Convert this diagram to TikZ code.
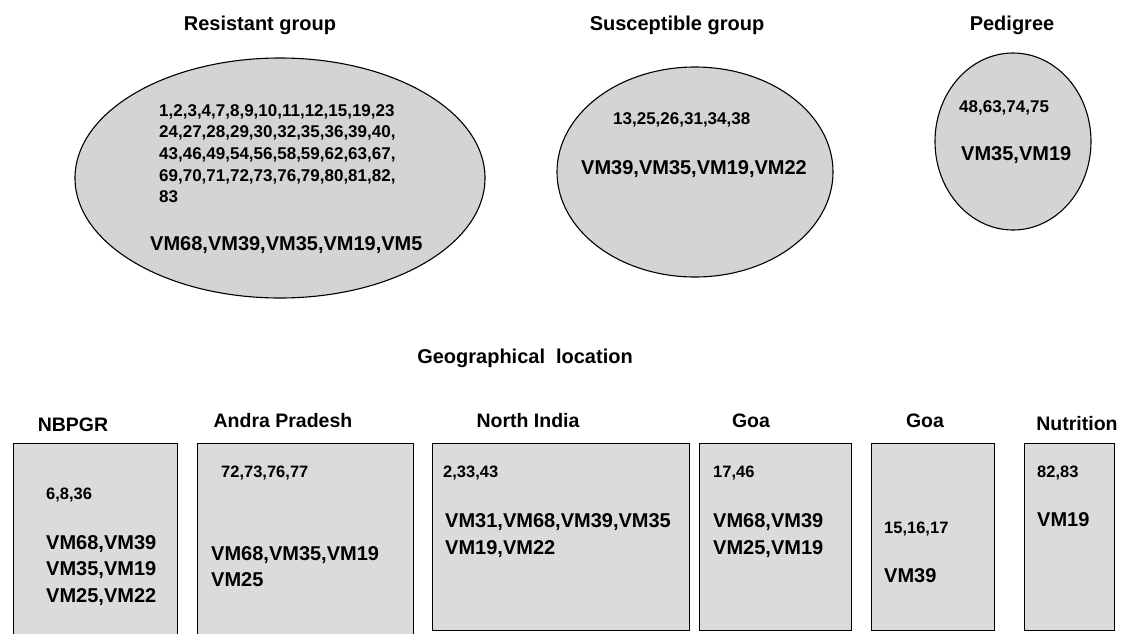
\documentclass[tikz,border=0pt]{standalone}
\usepackage{fontspec}
\setmainfont{Liberation Sans}
\usetikzlibrary{shapes.geometric}
\tikzset{
 grp/.style={ellipse, draw=black, line width=1.1pt, fill=black!17, inner sep=0},
 loc/.style={rectangle, draw=black, line width=1.3pt, fill=black!14, anchor=north west, inner sep=0},
 ttl/.style={font=\bfseries\fontsize{20}{24}\selectfont, inner sep=0},
 btl/.style={font=\bfseries\fontsize{19.5}{24}\selectfont, inner sep=0},
 nums/.style={font=\bfseries\fontsize{17}{21.7}\selectfont, anchor=north west, align=left, inner sep=0},
 snum/.style={font=\bfseries\fontsize{17}{21.7}\selectfont, anchor=west, inner sep=0},
 bnums/.style={font=\bfseries\fontsize{16.5}{20}\selectfont, anchor=west, inner sep=0},
 vms/.style={font=\bfseries\fontsize{20}{26.5}\selectfont, anchor=north west, align=left, inner sep=0},
 vmt/.style={font=\bfseries\fontsize{20}{27}\selectfont, anchor=north west, align=left, inner sep=0},
}
\begin{document}
\begin{tikzpicture}[x=1pt,y=-1pt]
\useasboundingbox (0,0) rectangle (1122,633);
\clip (0,0) rectangle (1122,633);
% top titles
\node[ttl] (tres) at (260,25) {Resistant group};
\node[ttl] (tsus) at (677,25) {Susceptible group};
\node[ttl] (tped) at (1012,25) {Pedigree};
% ellipses
\node[grp, minimum width=410pt, minimum height=240pt] (eres) at (280,178) {};
\node[grp, minimum width=276pt, minimum height=210pt] (esus) at (695,172) {};
\node[grp, minimum width=156pt, minimum height=177pt] (eped) at (1013,141.5) {};
% ellipse texts
\node[nums] (nres) at (159,104) {1,2,3,4,7,8,9,10,11,12,15,19,23\\24,27,28,29,30,32,35,36,39,40,\\43,46,49,54,56,58,59,62,63,67,\\69,70,71,72,73,76,79,80,81,82,\\83};
\node[vms] (vres) at (150,236) {VM68,VM39,VM35,VM19,VM5};
\node[snum] (nsus) at (613,120) {13,25,26,31,34,38};
\node[vms] (vsus) at (581,160) {VM39,VM35,VM19,VM22};
\node[snum] (nped) at (959,108) {48,63,74,75};
\node[vms] (vped) at (961,146) {VM35,VM19};
% geographical
\node[ttl] (tgeo) at (525,358) {Geographical\hspace{0.55em}location};
\node[btl] (tnb) at (73,425) {NBPGR};
\node[btl] (tap) at (283,421) {Andra Pradesh};
\node[btl] (tni) at (528,421) {North India};
\node[btl] (tg1) at (751,421) {Goa};
\node[btl] (tg2) at (925,421) {Goa};
\node[btl] (tnu) at (1077,424) {Nutrition};
% boxes
\node[loc, minimum width=164pt, minimum height=210pt] (bnb) at (13,443) {};
\node[loc, minimum width=216pt, minimum height=210pt] (bap) at (197,443) {};
\node[loc, minimum width=257pt, minimum height=187pt] (bni) at (432,443) {};
\node[loc, minimum width=152pt, minimum height=187pt] (bg1) at (699,443) {};
\node[loc, minimum width=123pt, minimum height=187pt] (bg2) at (871,443) {};
\node[loc, minimum width=90pt, minimum height=187pt] (bnu) at (1024,443) {};
% box texts
\node[bnums] (nnb) at (46,495) {6,8,36};
\node[vms] (vnb) at (46,535) {VM68,VM39\\VM35,VM19\\VM25,VM22};
\node[bnums] (nap) at (221,473) {72,73,76,77};
\node[vms] (vap) at (211,546) {VM68,VM35,VM19\\VM25};
\node[bnums] (nni) at (443,473) {2,33,43};
\node[vmt] (vni) at (445,513) {VM31,VM68,VM39,VM35\\VM19,VM22};
\node[bnums] (ng1) at (713,473) {17,46};
\node[vmt] (vg1) at (713,513) {VM68,VM39\\VM25,VM19};
\node[bnums] (ng2) at (884,529) {15,16,17};
\node[vms] (vg2) at (884,568) {VM39};
\node[bnums] (nnu) at (1037,473) {82,83};
\node[vms] (vnu) at (1037,512) {VM19};
\end{tikzpicture}
\end{document}
